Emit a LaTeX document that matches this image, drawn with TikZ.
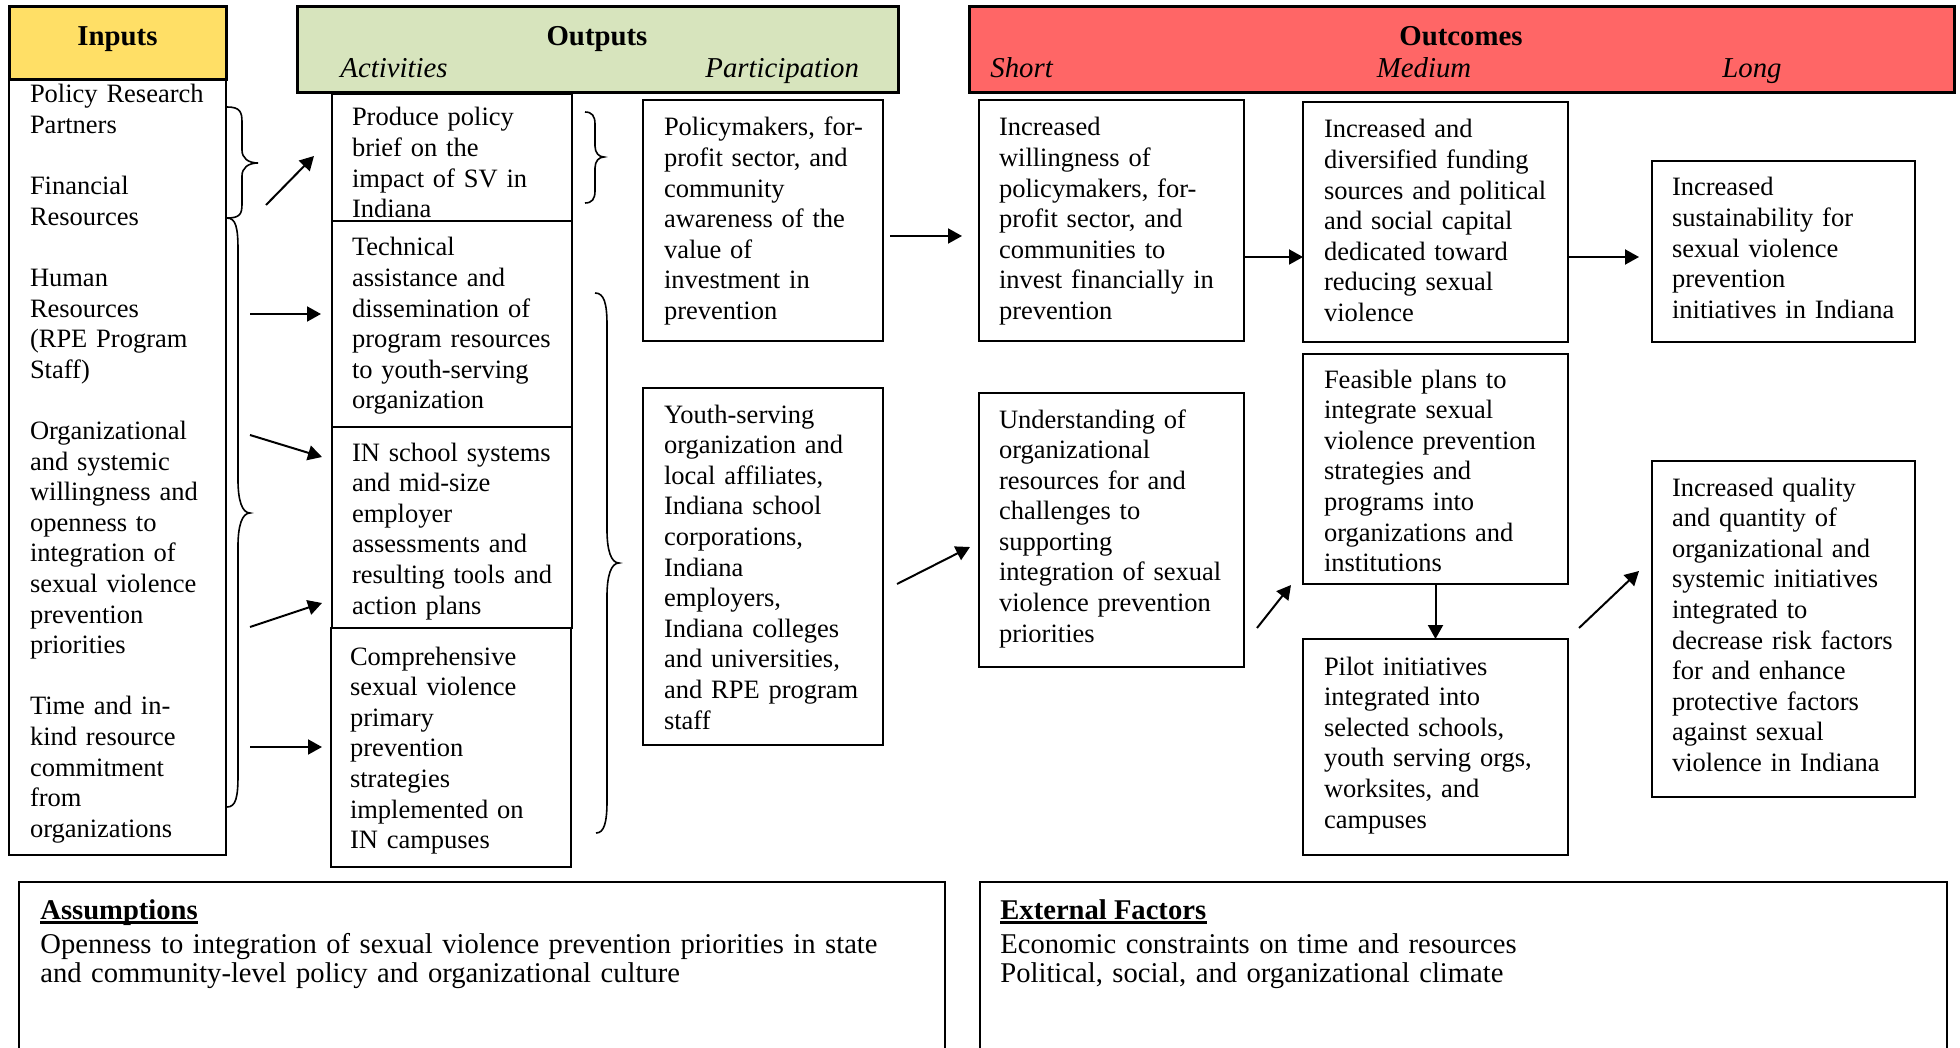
\documentclass[tikz,border=0pt]{standalone}
\usepackage{fontspec}
\setmainfont{Liberation Serif}
\usetikzlibrary{arrows.meta,fit}
\definecolor{inY}{HTML}{FFDF66}
\definecolor{outG}{HTML}{D7E4BD}
\definecolor{ocR}{HTML}{FF6666}
\newcommand{\fbody}{\fontsize{13.25pt}{15.3pt}\selectfont}
\newcommand{\fhead}{\fontsize{14.4pt}{16pt}\selectfont}
\newcommand{\fbot}{\fontsize{14.3pt}{14.6pt}\selectfont}
\begin{document}
\begin{tikzpicture}[x=0.5pt,y=-0.5pt,
 box/.style={draw, line width=1pt, inner sep=0pt, outer sep=0pt},
 hbox/.style={draw, line width=1.5pt, inner sep=0pt, outer sep=0pt},
 txt/.style={anchor=base west, inner sep=0pt, outer sep=0pt, text width=140pt, align=left, font=\fbody},
 htxt/.style={anchor=base, inner sep=0pt, font=\fhead\bfseries},
 stxt/.style={anchor=base west, inner sep=0pt, font=\fhead\itshape},
 bhead/.style={anchor=base west, inner sep=0pt, font=\fbot\bfseries},
 btxt/.style={anchor=base west, inner sep=0pt, text width=460pt, align=left, font=\fbot},
 arr/.style={line width=1pt, -{Triangle[length=7pt,width=7.5pt]}},
 brc/.style={line width=0.8pt},
]
\useasboundingbox (0,0) rectangle (1960,1048);
\clip (0,0) rectangle (1960,1048);

% headers
\node[hbox, fill=inY, fit={(9,7) (226,80)}] (inH) {};
\node[hbox, fill=outG, fit={(297,7) (898,93)}] (outH) {};
\node[hbox, fill=ocR, fit={(969,7) (1954,93)}] (ocH) {};
\node[htxt] (inL) at (117.5,46) {Inputs};
\node[htxt] (outL) at (597,46) {Outputs};
\node[stxt] (actL) at (340,78) {Activities};
\node[stxt] (parL) at (705,78) {Participation};
\node[htxt] (ocL) at (1461,46) {Outcomes};
\node[stxt] (shL) at (990,78) {Short};
\node[anchor=base, inner sep=0pt, font=\fhead\itshape] (meL) at (1424,78) {Medium};
\node[stxt] (loL) at (1722,78) {Long};

% inputs
\node[box, fit={(9,80) (226,855)}] (inB) {};
\node[txt] (inT) at (30,103) {Policy Research\\Partners\\[15.3pt]Financial\\Resources\\[15.3pt]Human\\Resources\\(RPE Program\\Staff)\\[15.3pt]Organizational\\and systemic\\willingness and\\openness to\\integration of\\sexual violence\\prevention\\priorities\\[15.3pt]Time and in-\\kind resource\\commitment\\from\\organizations};

% activities
\node[box, fit={(332,94) (572,221)}] (a1) {};
\node[box, fit={(332,221) (572,427)}] (a2) {};
\node[box, fit={(332,427) (572,628)}] (a3) {};
\node[box, fit={(331,628) (571,867)}] (a4) {};
\node[txt] (a1t) at (352,126) {Produce policy\\brief on the\\impact of SV in\\Indiana};
\node[txt] (a2t) at (352,256) {Technical\\assistance and\\dissemination of\\program resources\\to youth-serving\\organization};
\node[txt] (a3t) at (352,461) {IN school systems\\and mid-size\\employer\\assessments and\\resulting tools and\\action plans};
\node[txt] (a4t) at (350,665) {Comprehensive\\sexual violence\\primary\\prevention\\strategies\\implemented on\\IN campuses};

% participation
\node[box, fit={(643,100) (883,341)}] (p1) {};
\node[box, fit={(643,388) (883,745)}] (p2) {};
\node[txt] (p1t) at (664,136) {Policymakers, for-\\profit sector, and\\community\\awareness of the\\value of\\investment in\\prevention};
\node[txt] (p2t) at (664,423) {Youth-serving\\organization and\\local affiliates,\\Indiana school\\corporations,\\Indiana\\employers,\\Indiana colleges\\and universities,\\and RPE program\\staff};

% short
\node[box, fit={(979,100) (1244,341)}] (s1) {};
\node[box, fit={(979,393) (1244,667)}] (s2) {};
\node[txt] (s1t) at (999,136) {Increased\\willingness of\\policymakers, for-\\profit sector, and\\communities to\\invest financially in\\prevention};
\node[txt] (s2t) at (999,428) {Understanding of\\organizational\\resources for and\\challenges to\\supporting\\integration of sexual\\violence prevention\\priorities};

% medium
\node[box, fit={(1303,102) (1568,342)}] (m1) {};
\node[box, fit={(1303,354) (1568,584)}] (m2) {};
\node[box, fit={(1303,639) (1568,855)}] (m3) {};
\node[txt] (m1t) at (1324,138) {Increased and\\diversified funding\\sources and political\\and social capital\\dedicated toward\\reducing sexual\\violence};
\node[txt] (m2t) at (1324,388) {Feasible plans to\\integrate sexual\\violence prevention\\strategies and\\programs into\\organizations and\\institutions};
\node[txt] (m3t) at (1324,675) {Pilot initiatives\\integrated into\\selected schools,\\youth serving orgs,\\worksites, and\\campuses};

% long
\node[box, fit={(1652,161) (1915,342)}] (l1) {};
\node[box, fit={(1652,461) (1915,797)}] (l2) {};
\node[txt] (l1t) at (1672,196) {Increased\\sustainability for\\sexual violence\\prevention\\initiatives in Indiana};
\node[txt] (l2t) at (1672,496) {Increased quality\\and quantity of\\organizational and\\systemic initiatives\\integrated to\\decrease risk factors\\for and enhance\\protective factors\\against sexual\\violence in Indiana};

% bottom boxes
\node[box, fit={(19,882) (945,1075)}] (asm) {};
\node[box, fit={(980,882) (1947,1075)}] (ext) {};
\node[bhead] (asmH) at (40,919) {Assumptions};
\draw[line width=1.5pt] ([yshift=-1.6pt]asmH.base west) -- ([yshift=-1.6pt]asmH.base east);
\node[btxt] (asmT) at (40,953) {Openness to integration of sexual violence prevention priorities in state\\and community-level policy and organizational culture};
\node[bhead] (extH) at (1000,919) {External Factors};
\draw[line width=1.5pt] ([yshift=-1.6pt]extH.base west) -- ([yshift=-1.6pt]extH.base east);
\node[btxt] (extT) at (1000,953) {Economic constraints on time and resources\\Political, social, and organizational climate};

% braces
\draw[brc] (227,107) .. controls (240,107) and (242,112) .. (242,122) -- (242,150) .. controls (242,158) and (248,163) .. (258,163)
  .. controls (248,163) and (242,168) .. (242,176) -- (242,204) .. controls (242,214) and (240,218) .. (227,218);
\draw[brc] (227,218) .. controls (236,218) and (238,228) .. (238,250) -- (238,480) .. controls (238,500) and (242,513) .. (250,513)
  .. controls (242,513) and (238,526) .. (238,546) -- (238,775) .. controls (238,797) and (236,807) .. (227,807);
\draw[brc] (585,112) .. controls (592,112) and (595,116) .. (595,124) -- (595,146) .. controls (595,153) and (599,157) .. (604,157)
  .. controls (599,157) and (595,161) .. (595,168) -- (595,191) .. controls (595,199) and (592,203) .. (585,203);
\draw[brc] (595,293) .. controls (604,293) and (607,303) .. (607,325) -- (607,530) .. controls (607,550) and (611,563) .. (619,563)
  .. controls (611,563) and (607,576) .. (607,596) -- (607,801) .. controls (607,823) and (604,833) .. (596,833);

% arrows
\coordinate (i1s) at (266,205); \coordinate (i1e) at (314,156);
\coordinate (i2s) at (250,314); \coordinate (i2e) at (321,314);
\coordinate (i3s) at (250,435); \coordinate (i3e) at (322,457);
\coordinate (i4s) at (250,627); \coordinate (i4e) at (322,603);
\coordinate (i5s) at (250,747); \coordinate (i5e) at (322,747);
\coordinate (c7s) at (897,584); \coordinate (c7e) at (970,547);
\coordinate (c9s) at (1257,628); \coordinate (c9e) at (1291,585);
\coordinate (c12s) at (1579,628); \coordinate (c12e) at (1639,571);
\draw[arr] (i1s) -- (i1e);
\draw[arr] (i2s) -- (i2e);
\draw[arr] (i3s) -- (i3e);
\draw[arr] (i4s) -- (i4e);
\draw[arr] (i5s) -- (i5e);
\draw[arr, shorten <=3.5pt, shorten >=8.5pt] ([yshift=-7.75pt]p1.east) -- ([yshift=-7.75pt]s1.west);
\draw[arr] (c7s) -- (c7e);
\draw[arr] ([yshift=-18.25pt]s1.east) -- ([yshift=-18.25pt]s1.east -| m1.west);
\draw[arr] (c9s) -- (c9e);
\draw[arr, shorten >=6.5pt] ([yshift=-17.5pt]m1.east) -- ([yshift=-17.5pt]m1.east -| l1.west);
\draw[arr] (m2.south) -- (m3.north);
\draw[arr] (c12s) -- (c12e);
\end{tikzpicture}
\end{document}
